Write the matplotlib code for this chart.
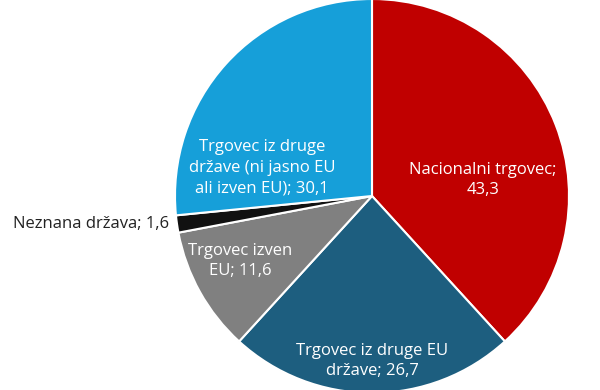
import matplotlib.pyplot as plt

# podatki
labels = [
    "Nacionalni trgovec;\n43,3",
    "Trgovec iz druge EU\ndržave; 26,7",
    "Trgovec izven\nEU; 11,6",
    "Neznana država; 1,6",
    "Trgovec iz druge\ndržave (ni jasno EU\nali izven EU); 30,1",
]
values = [43.3, 26.7, 11.6, 1.6, 30.1]
colors = ["#C00000", "#1D5E7F", "#808080", "#111111", "#169FD9"]

# polozaji oznak (v enotah polmera)
label_pos = [(0.563, 0.081), (0.0, -0.838), (-0.670, -0.330),
             (-1.03, -0.142), (-0.558, 0.142)]
label_col = ["white", "white", "white", "#222222", "white"]
label_ha = ["center", "center", "center", "right", "center"]

plt.rcParams["font.family"] = ["Open Sans", "DejaVu Sans"]

fig = plt.figure(figsize=(6, 3.9), dpi=100)
ax = fig.add_axes([0, 0, 1, 1])
ax.pie(
    values,
    colors=colors,
    startangle=90,
    counterclock=False,
    wedgeprops={"edgecolor": "white", "linewidth": 1.5},
)
for (x, y), txt, c, ha in zip(label_pos, labels, label_col, label_ha):
    ax.text(x, y, txt, color=c, ha=ha, va="center", fontsize=12,
            linespacing=1.4, multialignment="center")

ax.set_aspect("auto")
ax.set_xlim(-372 / 197, 228 / 197)
ax.set_ylim(-(390 - 196) / 197, 196 / 197)
ax.axis("off")
plt.savefig("out.png", dpi=100, facecolor="white")
